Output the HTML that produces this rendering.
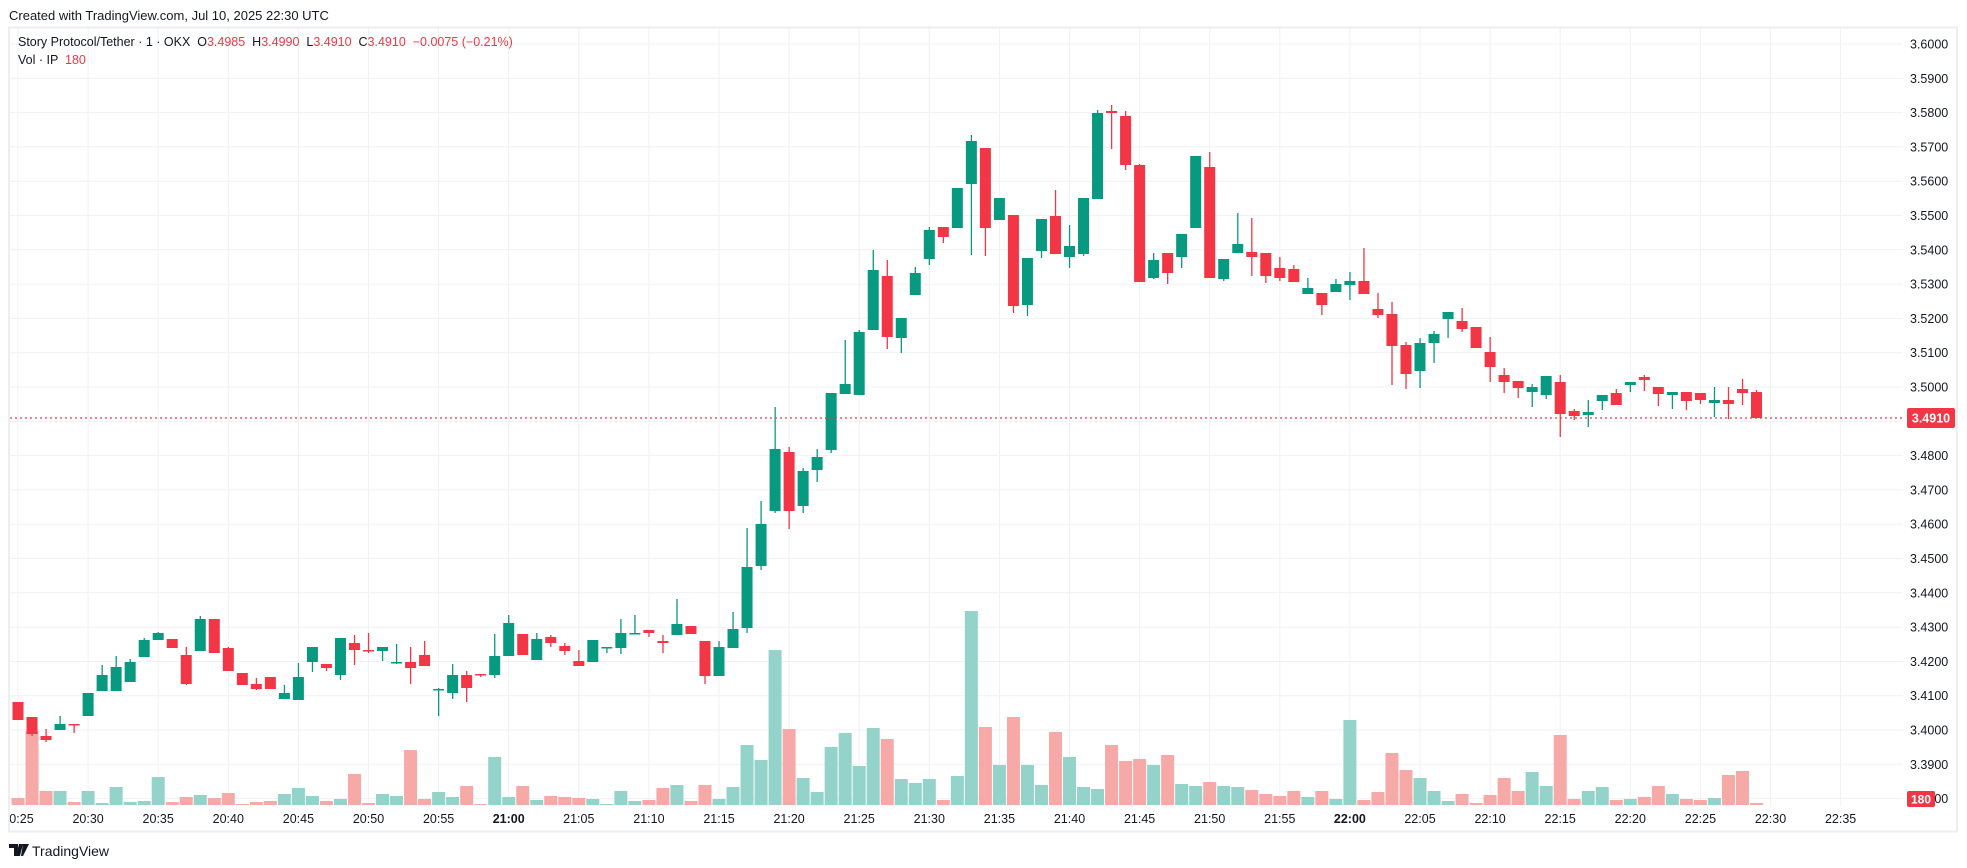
<!DOCTYPE html>
<html><head><meta charset="utf-8"><style>
html,body{margin:0;padding:0;background:#fff;width:1967px;height:868px;overflow:hidden;font-family:"Liberation Sans",sans-serif;color:#131722}
svg text{font-family:"Liberation Sans",sans-serif}
</style></head><body>
<svg id="s" width="1967" height="868" xmlns="http://www.w3.org/2000/svg">
<defs><clipPath id="c"><rect x="10" y="28" width="1893" height="777"/></clipPath>
<clipPath id="ct"><rect x="10" y="806" width="1893" height="25"/></clipPath></defs>
<rect x="0" y="0" width="1967" height="868" fill="#fff"/>
<text x="9" y="20" font-size="13" fill="#131722">Created with TradingView.com, Jul 10, 2025 22:30 UTC</text>
<rect x="9" y="27.5" width="1948" height="804" fill="none" stroke="#eceef2" stroke-width="2"/>
<g id="grid"></g>
<g id="vol" clip-path="url(#c)"></g>
<g id="cdl" clip-path="url(#c)"></g>
<line x1="10" x2="1903" y1="418" y2="418" stroke="#f23645" stroke-width="1.2" stroke-dasharray="2,3"/>
<g id="ylab"></g>
<g id="tlab" clip-path="url(#ct)"></g>
<rect x="1907" y="408" width="48" height="20" rx="2" fill="#f23645"/>
<text x="1931" y="422.5" font-size="12.5" fill="#fff" text-anchor="middle" font-weight="bold">3.4910</text>
<rect x="1907" y="791" width="28" height="16" rx="2" fill="#f23645"/>
<text x="1921" y="803.5" font-size="12" fill="#fff" text-anchor="middle" font-weight="bold">180</text>
<text x="18" y="46" font-size="12.5" fill="#131722" xml:space="preserve">Story Protocol/Tether · 1 · OKX  <tspan>O</tspan><tspan fill="#f23645">3.4985</tspan>  <tspan>H</tspan><tspan fill="#f23645">3.4990</tspan>  <tspan>L</tspan><tspan fill="#f23645">3.4910</tspan>  <tspan>C</tspan><tspan fill="#f23645">3.4910  −0.0075 (−0.21%)</tspan></text>
<text x="18" y="64" font-size="12.5" fill="#131722" xml:space="preserve">Vol · IP  <tspan fill="#f23645">180</tspan></text>
<g transform="translate(9,844)"><path d="M0 0h9v12h-4v-8h-5z M10 0h4l-3 12h-4z M14 0h6l-6 12h-2z" fill="#131722"/></g>
<text x="32" y="856" font-size="14" fill="#131722">TradingView</text>
</svg>
<script>
(function(){
var NS="http://www.w3.org/2000/svg";
function el(p,t,a,txt){var e=document.createElementNS(NS,t);for(var k in a)e.setAttribute(k,a[k]);if(txt!==undefined)e.textContent=txt;document.getElementById(p).appendChild(e);return e;}
function X(m){return 18+14.02*m;}
for(var k=0;k<=22;k++){var y=44+k*34.3;el("grid","line",{x1:10,x2:1903,y1:y,y2:y,stroke:"#f0f1f4","stroke-width":1});
 var p=(3.6-k*0.01).toFixed(4);el("ylab","text",{x:1910,y:y+4.5,"font-size":12.5,fill:"#131722"},p);}
var labs=["20:25","20:30","20:35","20:40","20:45","20:50","20:55","21:00","21:05","21:10","21:15","21:20","21:25","21:30","21:35","21:40","21:45","21:50","21:55","22:00","22:05","22:10","22:15","22:20","22:25","22:30","22:35"];
for(var i=0;i<labs.length;i++){var x=X(i*5);el("grid","line",{x1:x,x2:x,y1:28,y2:805,stroke:"#f0f1f4","stroke-width":1});
 var a={x:x,y:823,"font-size":12.5,fill:"#131722","text-anchor":"middle"};if(labs[i]=="21:00"||labs[i]=="22:00")a["font-weight"]="bold";el("tlab","text",a,labs[i]);}
var n=null;
var D=[[702,720,n,n],[717,734,n,736],[736,740,729,742],[730,724,716,n],[724,725,n,733],[716,693,n,n],[691,675,665,n],[691,667,656,n],[682,662,659,n],[657,640,638,n],
[640,633,632,n],[639,648,n,n],[655,684,647,685],[651,619,616,n],[619,653,n,n],[648,671,647,n],[673,685,n,n],[684,689,678,690],[677,689,n,n],[699,693,685,n],
[700,677,663,n],[662,647,n,672],[664,668,n,671],[675,638,n,680],[643,650,635,665],[650,651,633,653],[651,647,n,661],[663,662,644,664],[662,668,647,684],[655,666,641,n],
[690,689,688,716],[693,675,664,699],[675,688,671,702],[674,675,n,677],[675,656,634,678],[656,623,615,n],[634,655,n,n],[660,639,633,n],[637,643,635,647],[646,651,643,655],
[661,666,650,n],[662,640,n,n],[648,647,n,653],[648,633,619,654],[634,633,615,n],[630,633,n,637],[641,643,635,653],[635,624,599,n],[626,634,n,n],[641,676,n,684],
[676,647,641,n],[648,629,612,n],[628,567,528,633],[566,524,501,570],[511,449,407,513],[452,511,447,529],[506,471,468,513],[470,457,449,482],[450,393,n,453],[394,384,340,n],
[395,332,330,n],[330,270,250,n],[276,337,260,349],[338,318,n,353],[295,273,267,n],[259,230,227,265],[227,237,n,243],[228,188,n,n],[184,141,135,255],[148,228,n,256],
[220,198,n,n],[215,306,n,313],[305,258,n,316],[251,219,n,258],[216,254,190,n],[257,246,225,268],[254,198,n,256],[199,113,110,n],[111,113,105,149],[116,165,111,170],
[165,282,164,n],[278,260,253,279],[253,273,n,284],[257,234,n,268],[228,156,n,n],[167,278,152,n],[279,259,n,281],[253,244,213,n],[252,257,218,276],[253,276,n,283],
[268,278,257,281],[269,282,265,n],[294,288,278,n],[293,305,n,315],[292,284,279,n],[285,281,272,300],[281,294,248,n],[309,315,293,318],[314,346,302,385],[345,374,342,389],
[371,343,338,388],[343,334,331,363],[319,312,n,338],[321,329,308,332],[327,348,n,n],[352,367,337,382],[375,382,368,393],[381,388,n,398],[392,387,384,407],[395,376,n,399],
[382,414,375,437],[411,416,409,420],[415,412,400,427],[401,395,n,410],[393,405,389,n],[385,382,n,392],[377,380,375,391],[387,394,n,406],[395,392,n,409],[392,401,n,410],
[393,400,n,404],[403,400,387,417],[400,404,387,419],[389,393,379,405],[392,418,390,n]];
var V=[7,74,14,14,3,14,2,18,3,4,28,3,8,10,7,12,1,3,4,11,17,9,4,6,31,2,11,9,55,6,13,8,19,1,48,8,19,5,9,8,7,6,1,14,4,5,17,20,4,20,6,18,60,45,155,76,27,13,58,72,39,77,66,26,22,26,5,29,194,78,40,88,40,20,73,48,18,16,60,44,46,40,50,21,19,23,19,18,15,11,9,14,8,14,6,85,5,13,52,35,27,14,4,11,2,10,27,14,33,19,70,6,14,18,5,6,8,19,11,6,5,7,30,34,2];
for(var m=0;m<D.length;m++){var d=D[m],o=d[0],c=d[1],up=c<o,x=X(m);
 var col=up?"#089981":"#f23645",vc=up?"#94d3ca":"#f7a9a7";
 var h=V[m];el("vol","rect",{x:x-6.5,y:805-h,width:13,height:h,fill:vc});
 var tp=Math.min(o,c),bt=Math.max(o,c),H=d[2]==null?tp:d[2],L=d[3]==null?bt:d[3];
 if(H<tp||L>bt)el("cdl","rect",{x:x-0.6,y:H,width:1.3,height:L-H,fill:col});
 el("cdl","rect",{x:x-5.5,y:tp,width:11,height:Math.max(bt-tp,1.5),fill:col});}
})();
</script>
</body></html>
